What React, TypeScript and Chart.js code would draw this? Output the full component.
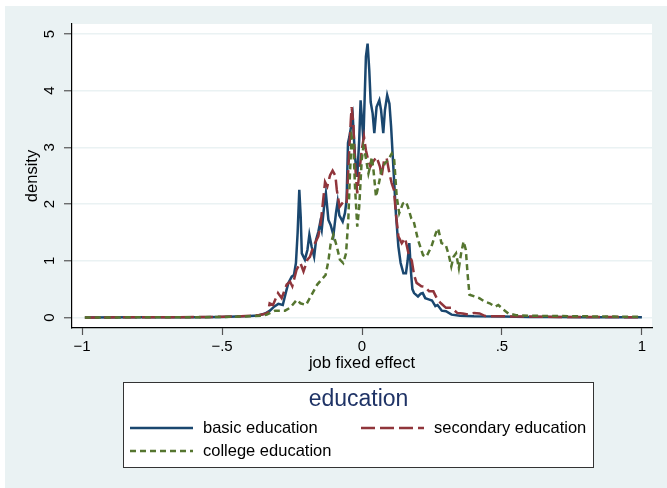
import React, { useEffect, useRef } from "react";
import { Chart, registerables } from "chart.js";
Chart.register(...registerables);

// ---------- data ----------
const basicX = [-0.99, -0.8, -0.6, -0.5, -0.45, -0.4, -0.37, -0.346, -0.329, -0.314, -0.299, -0.283, -0.271, -0.263, -0.251, -0.243, -0.236, -0.23, -0.224, -0.219, -0.215, -0.204, -0.195, -0.188, -0.18, -0.171, -0.164, -0.156, -0.15, -0.144, -0.136, -0.129, -0.12, -0.112, -0.102, -0.093, -0.087, -0.081, -0.069, -0.061, -0.055, -0.05, -0.045, -0.033, -0.025, -0.017, -0.01, -0.005, 0.005, 0.014, 0.02, 0.026, 0.031, 0.038, 0.044, 0.052, 0.062, 0.068, 0.076, 0.082, 0.09, 0.098, 0.104, 0.11, 0.116, 0.121, 0.13, 0.138, 0.148, 0.157, 0.163, 0.169, 0.175, 0.18, 0.186, 0.2, 0.21, 0.217, 0.226, 0.238, 0.25, 0.262, 0.27, 0.285, 0.3, 0.32, 0.35, 0.4, 0.5, 0.6, 0.7, 0.8, 0.9, 1.0];
const basicY = [0, 0.002, 0.005, 0.01, 0.015, 0.025, 0.035, 0.07, 0.12, 0.19, 0.24, 0.22, 0.46, 0.61, 0.72, 0.75, 0.96, 1.49, 2.25, 1.78, 1.13, 1.02, 1.19, 1.46, 1.25, 1.07, 1.37, 1.51, 1.66, 1.54, 1.93, 2.19, 1.72, 1.63, 1.45, 1.84, 2.04, 1.8, 1.69, 1.84, 2.07, 3.08, 3.19, 3.54, 2.83, 2.48, 3.13, 3.83, 3.13, 4.6, 4.83, 4.36, 3.8, 3.6, 3.25, 3.71, 3.83, 3.66, 3.25, 3.66, 3.92, 3.77, 3.36, 2.83, 2.3, 1.84, 1.25, 0.96, 0.78, 0.78, 1.0, 1.31, 0.8, 0.5, 0.43, 0.37, 0.42, 0.43, 0.34, 0.32, 0.3, 0.2, 0.22, 0.12, 0.11, 0.05, 0.03, 0.02, 0.015, 0.01, 0.008, 0.005, 0.004, 0.003];

const secondaryX = [-0.99, -0.8, -0.6, -0.5, -0.45, -0.4, -0.37, -0.35, -0.336, -0.33, -0.318, -0.3, -0.287, -0.269, -0.257, -0.249, -0.234, -0.22, -0.209, -0.195, -0.186, -0.174, -0.156, -0.147, -0.14, -0.132, -0.124, -0.114, -0.105, -0.095, -0.09, -0.08, -0.067, -0.055, -0.049, -0.04, -0.037, -0.031, -0.025, -0.017, -0.01, -0.001, 0.007, 0.014, 0.022, 0.03, 0.04, 0.052, 0.064, 0.07, 0.079, 0.088, 0.098, 0.106, 0.114, 0.121, 0.13, 0.142, 0.154, 0.166, 0.178, 0.186, 0.195, 0.212, 0.225, 0.24, 0.255, 0.27, 0.282, 0.3, 0.32, 0.34, 0.36, 0.38, 0.4, 0.42, 0.44, 0.5, 0.6, 0.7, 0.8, 0.9, 1.0];
const secondaryY = [0, 0.003, 0.006, 0.012, 0.018, 0.03, 0.04, 0.06, 0.08, 0.25, 0.22, 0.43, 0.34, 0.58, 0.63, 0.55, 0.84, 0.96, 0.81, 1.02, 1.07, 1.25, 1.43, 1.69, 2.01, 2.39, 2.31, 2.51, 2.59, 2.5, 2.25, 1.95, 2.04, 2.01, 2.6, 3.48, 3.71, 3.42, 2.72, 2.19, 2.54, 2.95, 3.19, 2.95, 2.78, 2.66, 2.75, 2.83, 2.66, 2.48, 2.78, 2.81, 2.54, 2.37, 2.25, 1.84, 1.43, 1.31, 1.4, 1.13, 1.0, 0.75, 0.61, 0.55, 0.54, 0.46, 0.46, 0.31, 0.25, 0.17, 0.17, 0.08, 0.07, 0.05, 0.08, 0.07, 0.025, 0.02, 0.015, 0.01, 0.008, 0.006, 0.005];

const collegeX = [-0.99, -0.8, -0.6, -0.5, -0.45, -0.4, -0.36, -0.34, -0.31, -0.293, -0.275, -0.257, -0.233, -0.22, -0.2, -0.18, -0.16, -0.142, -0.13, -0.12, -0.112, -0.102, -0.09, -0.079, -0.067, -0.057, -0.049, -0.043, -0.037, -0.031, -0.025, -0.017, -0.01, -0.001, 0.005, 0.011, 0.017, 0.023, 0.029, 0.035, 0.041, 0.05, 0.058, 0.07, 0.082, 0.094, 0.106, 0.115, 0.124, 0.133, 0.146, 0.157, 0.164, 0.176, 0.185, 0.2, 0.218, 0.23, 0.248, 0.264, 0.272, 0.284, 0.299, 0.31, 0.319, 0.327, 0.336, 0.346, 0.354, 0.363, 0.371, 0.377, 0.384, 0.402, 0.419, 0.438, 0.456, 0.475, 0.487, 0.505, 0.523, 0.55, 0.6, 0.7, 0.8, 0.9, 1.0];
const collegeY = [0, 0.002, 0.004, 0.008, 0.012, 0.02, 0.03, 0.05, 0.12, 0.12, 0.12, 0.17, 0.31, 0.25, 0.22, 0.4, 0.58, 0.68, 0.75, 1.0, 1.3, 1.46, 1.25, 1.02, 0.96, 1.13, 1.72, 2.54, 3.19, 3.07, 2.31, 1.6, 1.95, 2.78, 3.01, 2.89, 2.72, 2.54, 2.66, 2.83, 2.6, 2.13, 2.31, 2.6, 2.72, 2.78, 2.89, 2.78, 2.13, 1.84, 2.01, 2.04, 1.95, 1.75, 1.69, 1.37, 1.1, 1.07, 1.25, 1.49, 1.57, 1.31, 1.28, 1.1, 0.9, 1.07, 1.13, 0.87, 1.13, 1.34, 1.19, 0.78, 0.4, 0.37, 0.34, 0.28, 0.25, 0.19, 0.22, 0.14, 0.07, 0.04, 0.03, 0.025, 0.02, 0.015, 0.01];

const seriesLabels = ["basic education", "secondary education", "college education"];
const xTicks = [-1, -0.5, 0, 0.5, 1];
const xTickLabels = ["\u22121", "\u2212.5", "0", ".5", "1"];
const yTicks = [0, 1, 2, 3, 4, 5];
const yTickLabels = ["0", "1", "2", "3", "4", "5"];
const xTitle = "job fixed effect";
const yTitle = "density";
const legendTitle = "education";

// ---------- styles ----------
const FONT = "'Liberation Sans', Arial, Helvetica, sans-serif";
const BG = "#eaf2f3";
const colors = ["#1a476f", "#90353b", "#55752f"];
const dashes: number[][] = [[], [14, 5], [6, 4]];

function pts(xs: number[], ys: number[]) {
  return xs.map((x, i) => ({ x, y: ys[i] }));
}

const decorPlugin = {
  id: "decor",
  beforeDraw(chart: any) {
    const { ctx, chartArea } = chart;
    ctx.save();
    ctx.fillStyle = "#ffffff";
    ctx.fillRect(0, 0, chart.width, chart.height);
    ctx.fillStyle = BG;
    ctx.fillRect(5, 6, chart.width - 5, chart.height - 6);
    ctx.fillStyle = "#ffffff";
    ctx.fillRect(chartArea.left, chartArea.top, chartArea.right - chartArea.left, chartArea.bottom - chartArea.top);
    ctx.restore();
  },
  afterDraw(chart: any) {
    const { ctx, chartArea } = chart;
    const ys = chart.scales.y;
    ctx.save();
    // y tick labels (rotated)
    ctx.fillStyle = "#000";
    ctx.font = `15px ${FONT}`;
    ctx.textAlign = "center";
    ctx.textBaseline = "middle";
    yTicks.forEach((v, i) => {
      const py = ys.getPixelForValue(v);
      ctx.save();
      ctx.translate(50, py);
      ctx.rotate(-Math.PI / 2);
      ctx.fillText(yTickLabels[i], 0, 0);
      ctx.restore();
    });
    // y title
    ctx.font = `16.5px ${FONT}`;
    ctx.save();
    ctx.translate(32.5, (chartArea.top + chartArea.bottom) / 2);
    ctx.rotate(-Math.PI / 2);
    ctx.fillText(yTitle, 0, 0);
    ctx.restore();
    // x title
    ctx.fillText(xTitle, (chartArea.left + chartArea.right) / 2, 363);

    // legend box
    const bx = 123.5, by = 382.5, bw = 470, bh = 85;
    ctx.fillStyle = "#ffffff";
    ctx.fillRect(bx, by, bw, bh);
    ctx.strokeStyle = "#333";
    ctx.lineWidth = 1;
    ctx.strokeRect(bx, by, bw, bh);
    ctx.fillStyle = "#1f3366";
    ctx.font = `23px ${FONT}`;
    ctx.fillText(legendTitle, bx + bw / 2, 400);
    const pos = [[130, 428], [361, 428], [130, 451]];
    ctx.font = `16.5px ${FONT}`;
    ctx.textAlign = "left";
    chart.data.datasets.forEach((ds: any, i: number) => {
      const [lx, ly] = pos[i];
      ctx.save();
      ctx.strokeStyle = ds.borderColor;
      ctx.lineWidth = ds.borderWidth;
      ctx.setLineDash(ds.borderDash || []);
      ctx.beginPath();
      ctx.moveTo(lx, ly);
      ctx.lineTo(lx + 63, ly);
      ctx.stroke();
      ctx.restore();
      ctx.fillStyle = "#000";
      ctx.fillText(ds.label, lx + 73, ly);
    });
    ctx.restore();
  },
};

export default function App() {
  const ref = useRef<HTMLCanvasElement | null>(null);
  useEffect(() => {
    if (!ref.current) return;
    const datasets = [
      { xs: basicX, ys: basicY },
      { xs: secondaryX, ys: secondaryY },
      { xs: collegeX, ys: collegeY },
    ].map((s, i) => ({
      label: seriesLabels[i],
      data: pts(s.xs, s.ys),
      borderColor: colors[i],
      borderWidth: 2.5,
      borderDash: dashes[i],
      pointRadius: 0,
      tension: 0,
      fill: false,
      order: 3 - i,
    }));
    const chart = new Chart(ref.current, {
      type: "line",
      data: { datasets },
      options: {
        responsive: false,
        animation: false,
        events: [],
        layout: { padding: { top: 24, right: 15, left: 0, bottom: 0 } },
        plugins: { legend: { display: false }, tooltip: { enabled: false } },
        scales: {
          x: {
            type: "linear",
            min: -1.036,
            max: 1.036,
            afterBuildTicks: (s: any) => { s.ticks = xTicks.map((v) => ({ value: v })); },
            afterFit: (s: any) => { s.height = 160; },
            grid: { drawOnChartArea: false, tickLength: 7, tickColor: "#555", tickWidth: 1.2 },
            border: { color: "#000", width: 1.2 },
            ticks: {
              autoSkip: false,
              maxRotation: 0,
              padding: 3,
              color: "#000",
              font: { family: FONT, size: 15 },
              callback: (_v: any, i: number) => xTickLabels[i],
            },
          },
          y: {
            type: "linear",
            min: -0.186,
            max: 5.176,
            afterBuildTicks: (s: any) => { s.ticks = yTicks.map((v) => ({ value: v })); },
            afterFit: (s: any) => { s.width = 72; },
            grid: { color: BG, lineWidth: 1.5, tickLength: 8, tickColor: "#555", tickWidth: 1.2 },
            border: { color: "#000", width: 1.2 },
            ticks: { display: false },
          },
        },
      },
      plugins: [decorPlugin],
    });
    return () => chart.destroy();
  }, []);
  return (
    <div style={{ position: "absolute", left: 0, top: 0, width: 667, height: 488 }}>
      <canvas ref={ref} width={667} height={488} />
    </div>
  );
}
